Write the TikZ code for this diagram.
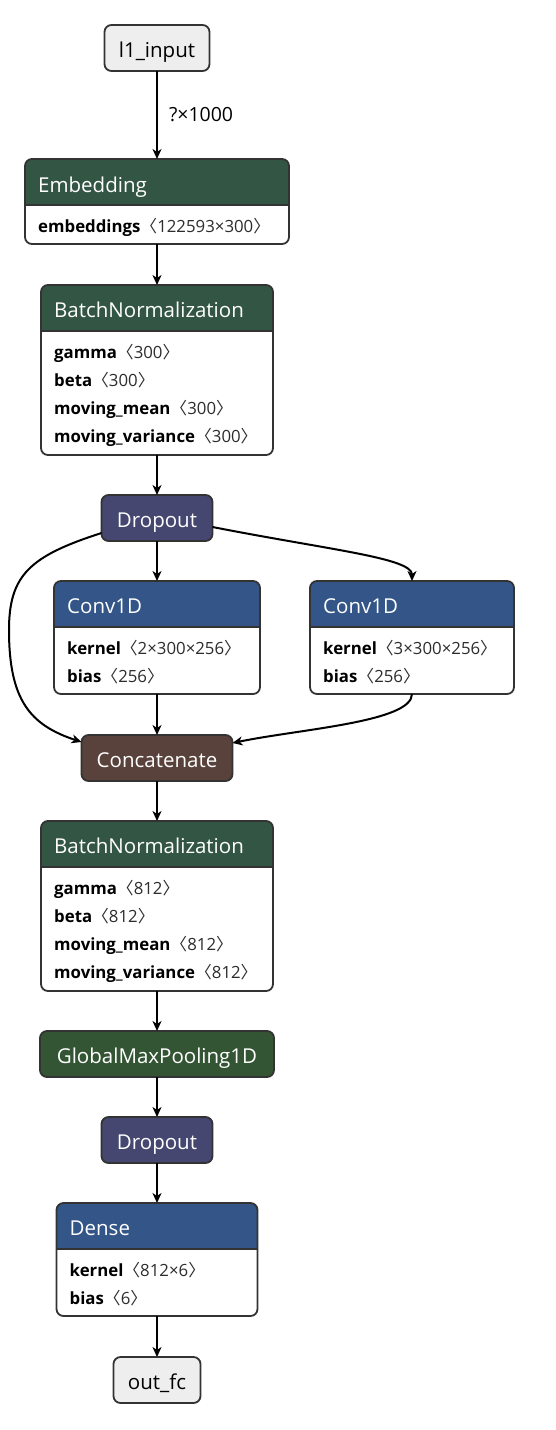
\documentclass[tikz,border=0pt]{standalone}
\usepackage{fontspec}
\setmainfont{Open Sans}
\newfontfamily\cjkfont{Noto Sans CJK SC}
\usetikzlibrary{arrows.meta}
\definecolor{cNorm}{RGB}{51,85,68}
\definecolor{cPool}{RGB}{51,85,51}
\definecolor{cLayer}{RGB}{51,85,136}
\definecolor{cDrop}{RGB}{69,71,112}
\definecolor{cTensor}{RGB}{89,66,59}
\definecolor{cIO}{RGB}{238,238,238}
\definecolor{cBorder}{RGB}{51,51,51}
\definecolor{cVal}{RGB}{45,45,45}
\tikzset{
  edge/.style={line width=2pt, black, -{Stealth[length=10pt,width=9pt,inset=3pt]}},
  frame/.style={draw=cBorder, line width=1.8pt, rounded corners=7pt, inner sep=0pt, outer sep=0pt},
  titletext/.style={font=\fontsize{20.5}{24}\selectfont, text=white, inner sep=0pt, anchor=base west},
  rowtext/.style={font=\fontsize{16.8}{19}\selectfont, inner sep=0pt, anchor=base west},
  simpletext/.style={font=\fontsize{20.5}{24}\selectfont, inner sep=0pt, anchor=base},
  lbl/.style={font=\fontsize{19.5}{22}\selectfont, inner sep=0pt, anchor=west},
}
% #1 name, #2 x1, #3 y1, #4 x2, #5 y2, #6 fill
\newcommand\plainbox[6]{%
  \node[frame, fill=#6, minimum width={(#4-#2)*1pt}, minimum height={(#5-#3)*1pt}, anchor=north west] (#1) at (#2,#3) {};
}
% #1 name, #2 x1, #3 y1, #4 x2, #5 y2, #6 header bottom, #7 colour
\newcommand\layerbox[7]{%
  \begin{scope}
    \clip[rounded corners=7pt] (#2,#3) rectangle (#4,#5);
    \fill[white] (#2,#3) rectangle (#4,#5);
    \fill[#7] (#2,#3) rectangle (#4,#6);
  \end{scope}
  \draw[cBorder, line width=1.8pt] (#2,#6) -- (#4,#6);
  \node[frame, minimum width={(#4-#2)*1pt}, minimum height={(#5-#3)*1pt}, anchor=north west] (#1) at (#2,#3) {};
}
\newcommand\attr[2]{{\bfseries #1}{\color{cVal}{\cjkfont 〈}#2{\cjkfont 〉}}}
\begin{document}
\begin{tikzpicture}[x=1pt,y=-1pt]
\useasboundingbox (0,0) rectangle (556,1430);

% input
\plainbox{in}{104.5}{25}{209.5}{71}{cIO}
\node[simpletext] (int) at (157,57) {l1\_input};

% Embedding
\layerbox{emb}{25}{159}{289}{244}{205}{cNorm}
\node[titletext] (embt) at (38,192) {Embedding};
\node[rowtext] (embr1) at (38,232) {\attr{embeddings}{122593×300}};

% BatchNormalization 1
\layerbox{bn1}{41}{285}{273}{455}{331}{cNorm}
\node[titletext] (bn1t) at (54,317) {BatchNormalization};
\node[rowtext] (bn1r1) at (54,358) {\attr{gamma}{300}};
\node[rowtext] (bn1r2) at (54,386) {\attr{beta}{300}};
\node[rowtext] (bn1r3) at (54,414) {\attr{moving\_mean}{300}};
\node[rowtext] (bn1r4) at (54,442) {\attr{moving\_variance}{300}};

% Dropout 1
\plainbox{drop1}{101.5}{495}{212.5}{541}{cDrop}
\node[simpletext, text=white] (drop1t) at (157,527) {Dropout};

% Conv1D left
\layerbox{convL}{54}{581}{260}{694}{627}{cLayer}
\node[titletext] (convLt) at (67,613) {Conv1D};
\node[rowtext] (convLr1) at (67,654) {\attr{kernel}{2×300×256}};
\node[rowtext] (convLr2) at (67,682) {\attr{bias}{256}};

% Conv1D right
\layerbox{convR}{310}{581}{514}{694}{627}{cLayer}
\node[titletext] (convRt) at (323,613) {Conv1D};
\node[rowtext] (convRr1) at (323,654) {\attr{kernel}{3×300×256}};
\node[rowtext] (convRr2) at (323,682) {\attr{bias}{256}};

% Concatenate
\plainbox{concat}{81.5}{735}{232.5}{781}{cTensor}
\node[simpletext, text=white] (concatt) at (157,767) {Concatenate};

% BatchNormalization 2
\layerbox{bn2}{41}{821}{273}{991}{867}{cNorm}
\node[titletext] (bn2t) at (54,853) {BatchNormalization};
\node[rowtext] (bn2r1) at (54,894) {\attr{gamma}{812}};
\node[rowtext] (bn2r2) at (54,922) {\attr{beta}{812}};
\node[rowtext] (bn2r3) at (54,950) {\attr{moving\_mean}{812}};
\node[rowtext] (bn2r4) at (54,978) {\attr{moving\_variance}{812}};

% GlobalMaxPooling1D
\plainbox{gmp}{40}{1031}{274}{1077}{cPool}
\node[simpletext, text=white] (gmpt) at (157,1063) {GlobalMaxPooling1D};

% Dropout 2
\plainbox{drop2}{101.5}{1117}{212.5}{1163}{cDrop}
\node[simpletext, text=white] (drop2t) at (157,1149) {Dropout};

% Dense
\layerbox{dense}{56.5}{1203}{257.5}{1316}{1249}{cLayer}
\node[titletext] (denset) at (69.5,1235) {Dense};
\node[rowtext] (denser1) at (69.5,1276) {\attr{kernel}{812×6}};
\node[rowtext] (denser2) at (69.5,1304) {\attr{bias}{6}};

% output
\plainbox{out}{113.5}{1357}{200.5}{1403}{cIO}
\node[simpletext] (outt) at (157,1389) {out\_fc};

% edges
\draw[edge] (in.south) -- node[lbl, xshift=11pt] (shape) {?×1000} (emb.north);
\draw[edge] (emb.south) -- (bn1.north);
\draw[edge] (bn1.south) -- (drop1.north);
\draw[edge] (drop1.south) -- (convL.north);
\draw[edge] ([yshift=-9pt]drop1.east) .. controls (330,550) and (412,558) .. (convR.north);
\draw[edge] ([yshift=-15pt]drop1.west) .. controls (30,556) and (9,575) .. (9,630)
   .. controls (9,700) and (30,725) .. ([yshift=16pt]concat.west);
\draw[edge] (convL.south) -- (concat.north);
\draw[edge] (convR.south) .. controls (412,722) and (300,729) .. ([yshift=15pt]concat.east);
\draw[edge] (concat.south) -- (bn2.north);
\draw[edge] (bn2.south) -- (gmp.north);
\draw[edge] (gmp.south) -- (drop2.north);
\draw[edge] (drop2.south) -- (dense.north);
\draw[edge] (dense.south) -- (out.north);
\end{tikzpicture}
\end{document}
